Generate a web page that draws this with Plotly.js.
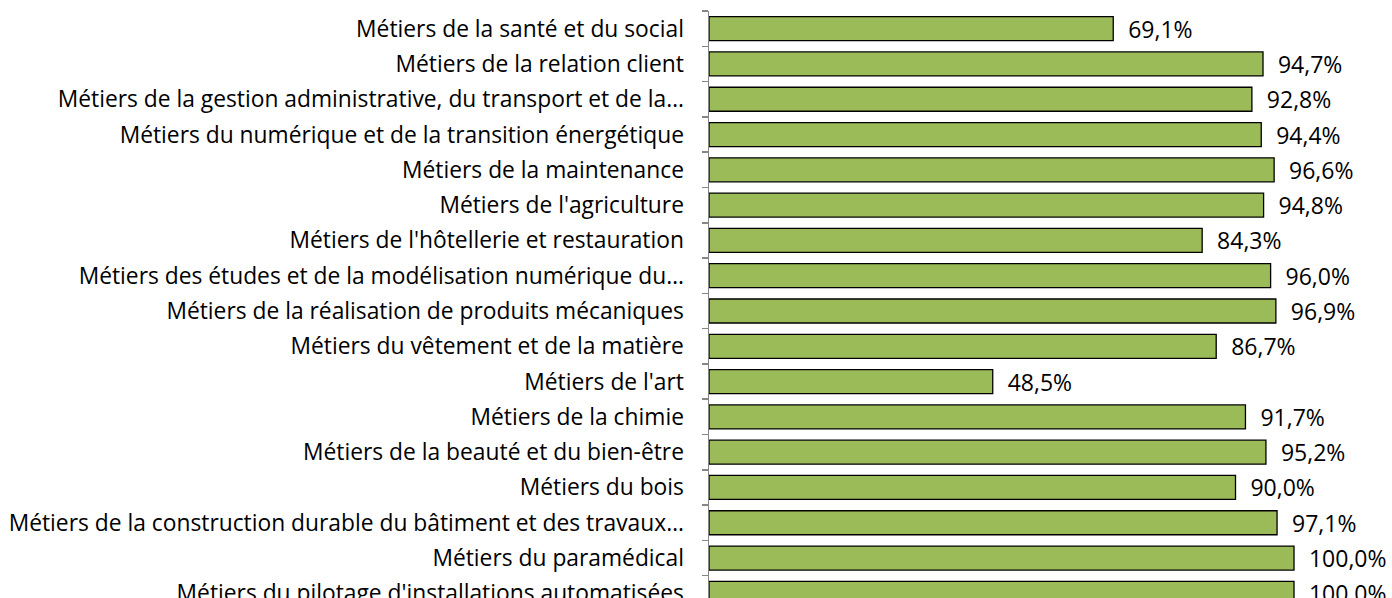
<!DOCTYPE html>
<html>
<head>
<meta charset="utf-8">
<script src="https://cdn.plot.ly/plotly-3.0.1.min.js"></script>
<style>
html,body{margin:0;padding:0;overflow:hidden;background:#fff;}
#chart{width:1392px;height:620px;}
</style>
</head>
<body>
<div id="chart"></div>
<script>
const categories = [
  "Métiers de la santé et du social",
  "Métiers de la relation client",
  "Métiers de la gestion administrative, du transport et de la…",
  "Métiers du numérique et de la transition énergétique",
  "Métiers de la maintenance",
  "Métiers de l'agriculture",
  "Métiers de l'hôtellerie et restauration",
  "Métiers des études et de la modélisation numérique du…",
  "Métiers de la réalisation de produits mécaniques",
  "Métiers du vêtement et de la matière",
  "Métiers de l'art",
  "Métiers de la chimie",
  "Métiers de la beauté et du bien-être",
  "Métiers du bois",
  "Métiers de la construction durable du bâtiment et des travaux…",
  "Métiers du paramédical",
  "Métiers du pilotage d'installations automatisées"
];
const values = [69.1, 94.7, 92.8, 94.4, 96.6, 94.8, 84.3, 96.0, 96.9, 86.7, 48.5, 91.7, 95.2, 90.0, 97.1, 100.0, 100.0];

const FONT = '"Open Sans", "Noto Sans", sans-serif';
const W = 1392, H = 620;
const trace = {
  type: 'bar',
  orientation: 'h',
  x: values,
  y: categories,
  marker: {color: '#9BBB59', line: {color: '#000000', width: 1.3}},
  text: values.map(v => '  ' + v.toFixed(1).replace('.', ',') + '%'),
  textposition: 'outside',
  constraintext: 'none',
  textfont: {family: FONT, size: 23, color: '#000'},
  cliponaxis: false,
  hoverinfo: 'skip'
};
const layout = {
  width: W, height: H,
  margin: {l: 709, r: 0, t: 10.5, b: 9.3, pad: 0},
  paper_bgcolor: '#fff', plot_bgcolor: '#fff',
  showlegend: false,
  bargap: 0.32,
  font: {family: FONT, size: 20, color: '#000'},
  xaxis: {range: [0, 116.75], visible: false, fixedrange: true},
  yaxis: {
    type: 'category',
    autorange: 'reversed',
    showline: true, linecolor: '#868686', linewidth: 1.5,
    ticks: 'outside', ticklen: 6, tickcolor: '#868686', tickwidth: 1.5,
    tickson: 'boundaries',
    showgrid: false, zeroline: false,
    ticklabelstandoff: 19,
    tickfont: {family: FONT, size: 22.8, color: '#000'}
  }
};
Plotly.newPlot('chart', [trace], layout, {displayModeBar: false, staticPlot: true});
</script>
</body>
</html>
